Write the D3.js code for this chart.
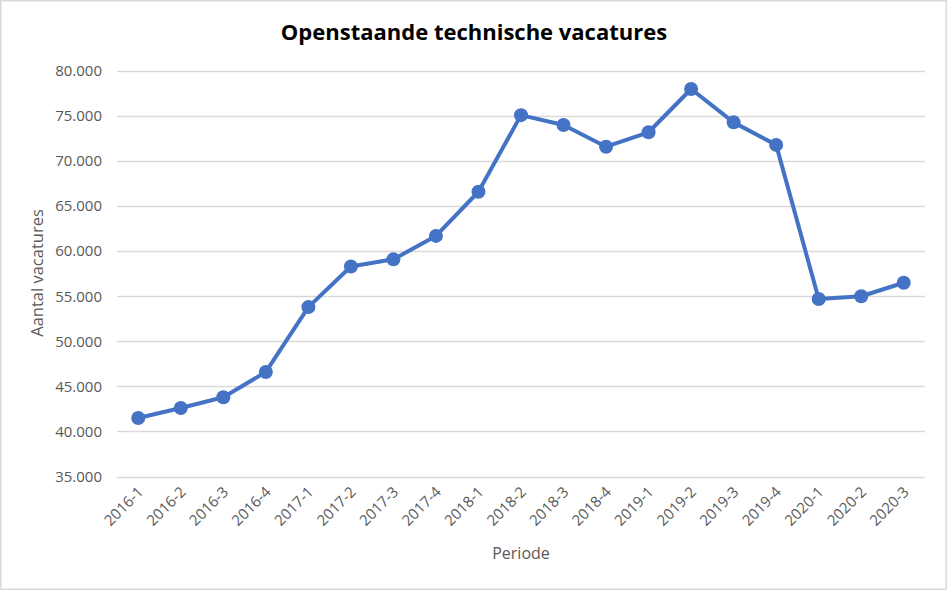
<!DOCTYPE html>
<html>
<head>
<meta charset="utf-8">
<script src="https://cdn.jsdelivr.net/npm/d3@7"></script>
<style>
body { margin: 0; background: #fff; }
svg text { font-family: "Open Sans", "Noto Sans", sans-serif; }
</style>
</head>
<body>
<svg id="chart"></svg>
<script>
// chart size
var svgWidth = 947;
var svgHeight = 590;

// data
var periods = ["2016-1","2016-2","2016-3","2016-4","2017-1","2017-2","2017-3","2017-4",
  "2018-1","2018-2","2018-3","2018-4","2019-1","2019-2","2019-3","2019-4",
  "2020-1","2020-2","2020-3"];
var vacatures = [41500, 42600, 43800, 46600, 53800, 58300, 59100, 61700,
  66600, 75100, 74000, 71600, 73200, 78000, 74300, 71800,
  54700, 55000, 56500];
var yTicks = [35000, 40000, 45000, 50000, 55000, 60000, 65000, 70000, 75000, 80000];

var lineColor = "#4472C4";
var gridColor = "#d9d9d9";
var textColor = "#595959";

var svg = d3.select("#chart").attr("width", svgWidth).attr("height", svgHeight);

// outer border
svg.append("rect")
  .attr("x", 0.5).attr("y", 0.5)
  .attr("width", svgWidth - 1).attr("height", svgHeight - 1)
  .attr("fill", "#fff").attr("stroke", gridColor).attr("stroke-width", 2);

var plotLeft = 117, plotRight = 925;
var x = d3.scalePoint().domain(periods).range([plotLeft, plotRight]).padding(0.5);
var y = d3.scaleLinear().domain([35000, 80000]).range([476.5, 71]);

var nl = d3.formatLocale({decimal: ",", thousands: ".", grouping: [3], currency: ["€", ""]});
var fmt = nl.format(",.0f");

// gridlines
svg.append("g").selectAll("line")
  .data(yTicks).enter().append("line")
  .attr("x1", plotLeft).attr("x2", plotRight)
  .attr("y1", function(d) { return Math.round(y(d)) + 0.5; })
  .attr("y2", function(d) { return Math.round(y(d)) + 0.5; })
  .attr("stroke", gridColor).attr("stroke-width", 1.5);

// y tick labels
svg.append("g").selectAll("text")
  .data(yTicks).enter().append("text")
  .attr("x", 102)
  .attr("y", function(d) { return y(d); })
  .attr("dy", "0.35em")
  .attr("text-anchor", "end")
  .attr("font-size", 15)
  .attr("fill", textColor)
  .text(function(d) { return fmt(d); });

// x tick labels rotated
svg.append("g").selectAll("text")
  .data(periods).enter().append("text")
  .attr("transform", function(d) { return "translate(" + (x(d) + 6) + ",493) rotate(-45)"; })
  .attr("text-anchor", "end")
  .attr("font-size", 15)
  .attr("fill", textColor)
  .text(function(d) { return d; });

// line
var line = d3.line()
  .x(function(d, i) { return x(periods[i]); })
  .y(function(d) { return y(d); });

svg.append("path")
  .datum(vacatures)
  .attr("d", line)
  .attr("fill", "none")
  .attr("stroke", lineColor)
  .attr("stroke-width", 4)
  .attr("stroke-linejoin", "round");

svg.append("g").selectAll("circle")
  .data(vacatures).enter().append("circle")
  .attr("cx", function(d, i) { return x(periods[i]); })
  .attr("cy", function(d) { return y(d); })
  .attr("r", 7)
  .attr("fill", lineColor);

// title
svg.append("text")
  .attr("x", 474).attr("y", 40)
  .attr("text-anchor", "middle")
  .attr("font-size", 22)
  .attr("font-weight", "bold")
  .attr("fill", "#000")
  .text("Openstaande technische vacatures");

// axis titles
svg.append("text")
  .attr("x", 521).attr("y", 559)
  .attr("text-anchor", "middle")
  .attr("font-size", 16)
  .attr("fill", textColor)
  .text("Periode");

svg.append("text")
  .attr("transform", "translate(43,273) rotate(-90)")
  .attr("text-anchor", "middle")
  .attr("font-size", 16.5)
  .attr("fill", textColor)
  .text("Aantal vacatures");
</script>
</body>
</html>
